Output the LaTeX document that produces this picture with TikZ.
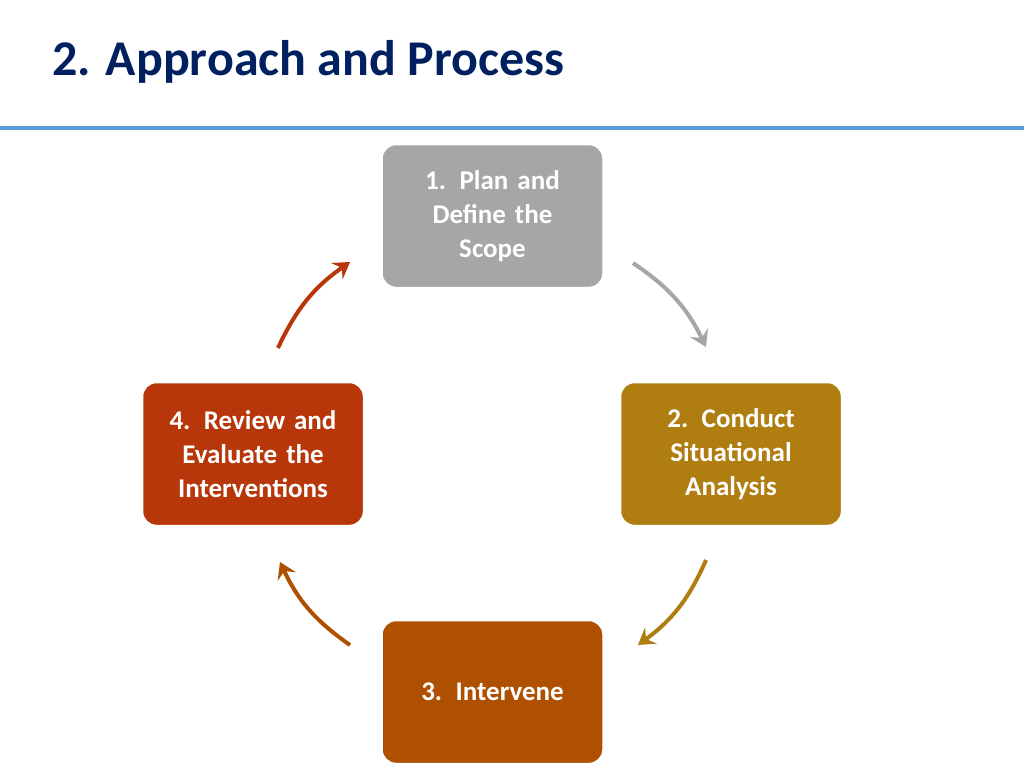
\documentclass[tikz,border=0pt]{standalone}
\usepackage{fontspec}
\setmainfont{Carlito}
\usetikzlibrary{arrows.meta, positioning}

\definecolor{titleblue}{RGB}{0,32,96}
\definecolor{rulerblue}{RGB}{91,155,213}
\definecolor{stepgray}{RGB}{166,166,166}
\definecolor{stepgold}{RGB}{176,125,16}
\definecolor{steporange}{RGB}{175,80,0}
\definecolor{stepred}{RGB}{183,55,10}

\tikzset{
  stage/.style = {rounded corners=14pt, draw=white, line width=1.5pt,
    minimum width=221pt, minimum height=143pt, text width=200pt,
    align=center, text=white, font=\bfseries\fontsize{27}{34}\selectfont},
  cycle/.style = {line width=4pt, -{Stealth[length=16pt,width=20pt,inset=6pt]}}
}

\begin{document}
\begin{tikzpicture}[x=1pt, y=-1pt]
  \useasboundingbox (0,0) rectangle (1024,768);

  \node[anchor=base west, text=titleblue, inner sep=0pt,
    font=\bfseries\fontsize{50}{60}\selectfont] (title) at (52,75)
    {2. Approach and Process};
  \draw[rulerblue, line width=4pt] (0,128) -- (1024,128);

  \node[stage, fill=stepgray]   (plan)      at (492.5,216) {1. Plan and\\Define the\\Scope};
  \node[stage, fill=stepgold]   (analysis)  at (731,454)   {2. Conduct\\Situational\\Analysis};
  \node[stage, fill=steporange] (intervene) at (492.5,692) {3. Intervene};
  \node[stage, fill=stepred]    (review)    at (253,454)   {4. Review and\\Evaluate the\\Interventions};

  % arrow ends
  \coordinate (a1) at (633,263);  \coordinate (b1) at (706,347);
  \coordinate (a2) at (706,560);  \coordinate (b2) at (638,645);
  \coordinate (a3) at (350,645);  \coordinate (b3) at (280,562);
  \coordinate (a4) at (278,348);  \coordinate (b4) at (350,262);

  \draw[cycle, stepgray]   (a1) to[bend left=15] (b1);
  \draw[cycle, stepgold]   (a2) to[bend left=15] (b2);
  \draw[cycle, steporange] (a3) to[bend left=15] (b3);
  \draw[cycle, stepred]    (a4) to[bend left=15] (b4);
\end{tikzpicture}
\end{document}
